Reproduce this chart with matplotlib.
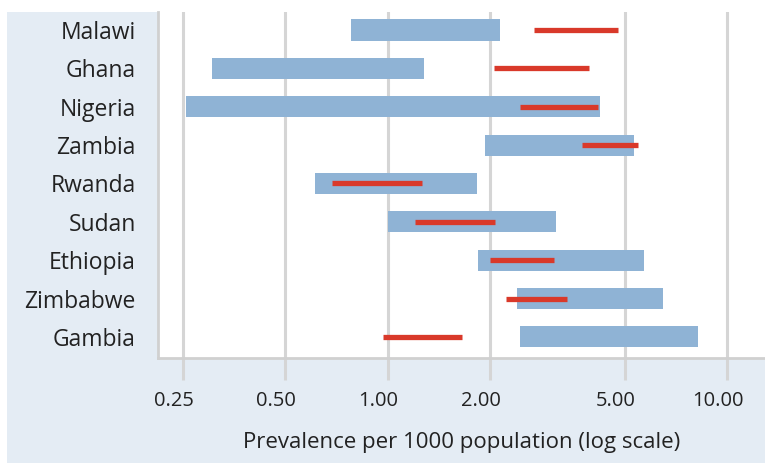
import matplotlib
matplotlib.use("Agg")
import matplotlib.pyplot as plt
import matplotlib.transforms as mtransforms
from matplotlib.patches import Rectangle
import numpy as np

countries = ["Malawi", "Ghana", "Nigeria", "Zambia", "Rwanda", "Sudan",
             "Ethiopia", "Zimbabwe", "Gambia"]
range_low = [0.78, 0.305, 0.255, 1.94, 0.61, 1.00, 1.84, 2.40, 2.46]
range_high = [2.14, 1.28, 4.21, 5.30, 1.835, 3.14, 5.69, 6.48, 8.19]
est_low = [2.69, 2.06, 2.45, 3.74, 0.684, 1.20, 2.00, 2.23, 0.967]
est_high = [4.75, 3.91, 4.15, 5.47, 1.26, 2.07, 3.08, 3.37, 1.65]
xticks = [0.25, 0.5, 1.0, 2.0, 5.0, 10.0]
xtick_labels = ["0.25", "0.50", "1.00", "2.00", "5.00", "10.00"]

plt.rcParams['font.family'] = ['Open Sans', 'DejaVu Sans']

W, H = 765, 465
fig = plt.figure(figsize=(W / 100, H / 100), dpi=100, facecolor="white")
bg = Rectangle((7 / W, 2 / H), 1 - 7 / W, 1 - 14 / H,
               transform=fig.transFigure, facecolor="#e4ecf4",
               edgecolor="none", zorder=-10)
fig.add_artist(bg)

ax = fig.add_axes([158 / W, 1 - 358 / H, 1 - 158 / W, (358 - 12) / H])
ax.set_zorder(1)
ax.set_facecolor("white")

y = np.arange(len(countries))
lo = np.array(range_low)
hi = np.array(range_high)
ax.barh(y, hi - lo, left=lo, height=0.55, color="#8fb3d5", zorder=2)
ax.hlines(y, est_low, est_high, color="#d9392a", linewidth=3.8, zorder=3,
          capstyle="butt")

ax.set_xscale("log")
ax.set_xlim(0.211, 12.9)
ax.set_ylim(len(countries) - 0.45, -0.47)
ax.set_xticks(xticks)
ax.set_xticklabels(xtick_labels)
ax.xaxis.set_minor_locator(matplotlib.ticker.NullLocator())
ax.set_yticks(y)
ax.set_yticklabels(countries)

ax.grid(axis="x", color="#d5d5d5", linewidth=2.2, zorder=1)
ax.set_axisbelow(True)
ax.tick_params(axis="x", direction="out", length=16, width=2.2,
               color="#d5d5d5", pad=8, labelsize=14.5, labelcolor="#222222")
ax.tick_params(axis="y", length=0, pad=16, labelsize=16.5, labelcolor="#222222")

shift = mtransforms.ScaledTranslation(-9 / 100, 0, fig.dpi_scale_trans)
for lab in ax.get_xticklabels():
    lab.set_transform(lab.get_transform() + shift)

for s in ["top", "right"]:
    ax.spines[s].set_visible(False)
for s in ["left", "bottom"]:
    ax.spines[s].set_color("#d0d0d0")
    ax.spines[s].set_linewidth(2)

ax.set_xlabel("Prevalence per 1000 population (log scale)", fontsize=16,
              color="#222222", labelpad=15)

fig.savefig("out.png", dpi=100, facecolor="white")
